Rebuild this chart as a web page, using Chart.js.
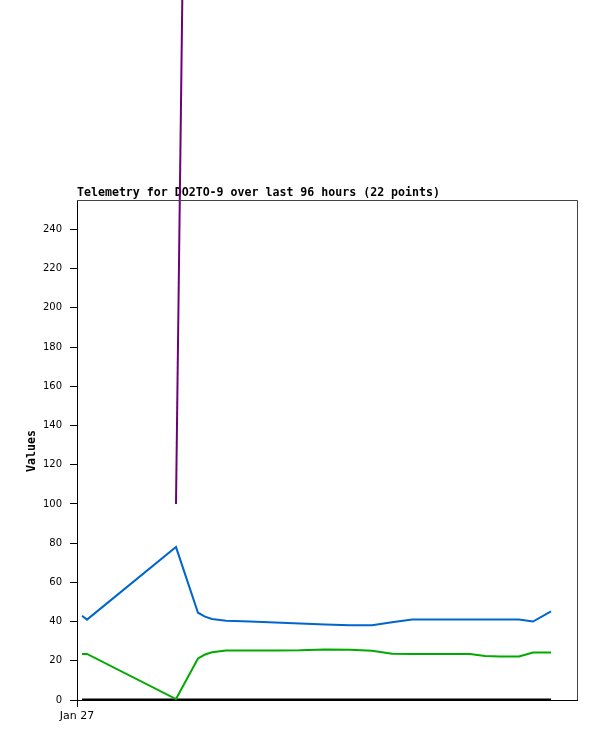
<!DOCTYPE html>
<html>
<head>
<meta charset="utf-8">
<script src="https://cdn.jsdelivr.net/npm/chart.js@4/dist/chart.umd.min.js"></script>
<style>
  html, body { margin: 0; padding: 0; background: #fff; }
  #wrap { width: 597px; height: 741px; }
</style>
</head>
<body>
<div id="wrap"><canvas id="chart" width="597" height="741"></canvas></div>
<script>
// hours since Jan 27 00:00
const horas = [1, 2, 19.8, 24.2, 25.6, 27, 29.8, 34.6, 39.6, 44.6, 49.6, 54.6, 59, 63, 67, 72.6, 78.6, 81.6, 84.6, 88.4, 91.2, 94.8];
const serieAzul = [43, 41, 78, 44.5, 42.5, 41.3, 40.4, 40.0, 39.5, 39.0, 38.5, 38.1, 38.1, 39.6, 41.1, 41.1, 41.1, 41.1, 41.1, 41.0, 40.0, 45.2];
const serieVerde = [23.5, 23.5, 0.5, 21.2, 23.2, 24.3, 25.2, 25.3, 25.3, 25.4, 25.8, 25.6, 25.1, 23.6, 23.5, 23.5, 23.4, 22.4, 22.2, 22.2, 24.2, 24.2];
const serieMorada = [null, null, 100, 1000, null, null, null, null, null, null, null, null, null, null, null, null, null, null, null, null, null, null];
const serieNegra = [0, 0, 0, 0, 0, 0, 0, 0, 0, 0, 0, 0, 0, 0, 0, 0, 0, 0, 0, 0, 0, 0];
const ticksY = [0, 20, 40, 60, 80, 100, 120, 140, 160, 180, 200, 220, 240];
const ticksX = [{ value: 0, label: "Jan 27" }];
const titulo = "Telemetry for DO2TO-9 over last 96 hours (22 points)";
const etiquetaY = "Values";

const puntos = arr => arr.map((v, i) => ({ x: horas[i], y: v }));

const textos = {
  id: "textos",
  beforeDraw(chart) {
    const ctx = chart.ctx;
    const a = chart.chartArea;
    ctx.save();
    ctx.fillStyle = "#000";
    ctx.font = "bold 11.6px 'DejaVu Sans Mono'";
    ctx.textAlign = "left";
    ctx.textBaseline = "alphabetic";
    ctx.fillText(titulo, a.left, a.top - 4);
    ctx.translate(32, (a.top + a.bottom) / 2 + 1);
    ctx.rotate(-Math.PI / 2);
    ctx.textAlign = "center";
    ctx.textBaseline = "middle";
    ctx.fillText(etiquetaY, 0, 0);
    ctx.restore();
  },
  afterDraw(chart) {
    const ctx = chart.ctx;
    const a = chart.chartArea;
    ctx.save();
    ctx.strokeStyle = "#444";
    ctx.lineWidth = 1;
    ctx.beginPath();
    ctx.moveTo(a.left, a.top + 0.5);
    ctx.lineTo(a.right + 0.5, a.top + 0.5);
    ctx.lineTo(a.right + 0.5, a.bottom);
    ctx.stroke();
    ctx.restore();
  }
};

const canvas = document.getElementById("chart").getContext("2d");

const chart = new Chart(canvas, {
  type: "line",
  data: {
    datasets: [
      { label: "a", data: puntos(serieAzul), borderColor: "#0066cc", borderWidth: 2 },
      { label: "b", data: puntos(serieVerde), borderColor: "#00aa00", borderWidth: 2 },
      { label: "c", data: puntos(serieMorada), borderColor: "#6b0078", borderWidth: 2, clip: false },
      { label: "d", data: puntos(serieNegra), borderColor: "#000000", borderWidth: 3 }
    ]
  },
  options: {
    responsive: false,
    animation: false,
    devicePixelRatio: 1,
    layout: { padding: { top: 200, right: 20, left: 0, bottom: 0 } },
    elements: { point: { radius: 0 }, line: { tension: 0, borderCapStyle: "butt" } },
    plugins: { legend: { display: false }, tooltip: { enabled: false } },
    scales: {
      x: {
        type: "linear",
        min: 0,
        max: 100,
        afterFit: s => { s.height = 41; },
        afterBuildTicks: s => { s.ticks = ticksX.map(t => ({ value: t.value })); },
        grid: { drawOnChartArea: false, tickLength: 7, color: "#000", tickColor: "#000" },
        border: { color: "#000", width: 1 },
        ticks: {
          padding: 3,
          maxRotation: 0,
          color: "#000",
          font: { family: "DejaVu Sans", size: 11 },
          callback: v => (ticksX.find(t => t.value === v) || {}).label || ""
        }
      },
      y: {
        min: 0,
        max: 255,
        afterFit: s => { s.width = 77; },
        afterBuildTicks: s => { s.ticks = ticksY.map(v => ({ value: v })); },
        grid: { drawOnChartArea: false, tickLength: 7, color: "#000", tickColor: "#000" },
        border: { color: "#000", width: 1 },
        ticks: {
          padding: 8,
          color: "#000",
          font: { family: "DejaVu Sans", size: 10 }
        }
      }
    }
  },
  plugins: [textos]
});
</script>
</body>
</html>
